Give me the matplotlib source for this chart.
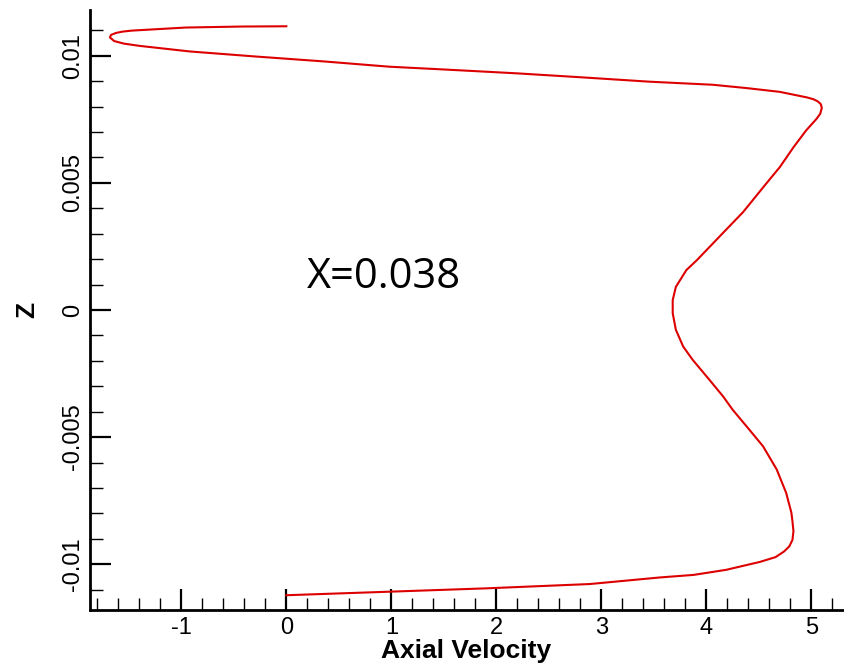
import matplotlib
matplotlib.use("Agg")
import matplotlib.pyplot as plt
from matplotlib.ticker import MultipleLocator, FixedLocator

# Axial velocity profile across the channel height (ordered along the curve)
axial_velocity = [0.0, 0.92, 1.90, 2.89, 3.56, 3.88, 4.19, 4.51, 4.66, 4.74,
                  4.79, 4.82, 4.83, 4.82, 4.81, 4.76, 4.67, 4.54, 4.41, 4.25,
                  4.16, 4.02, 3.87, 3.78, 3.71, 3.68, 3.68, 3.71, 3.81, 3.91,
                  4.14, 4.35, 4.57, 4.70, 4.83, 4.95, 5.05, 5.085, 5.10, 5.09,
                  5.06, 5.02, 4.96, 4.70, 4.38, 4.06, 3.46, 2.82, 2.19, 1.55,
                  0.98, 0.35, -0.29, -0.92, -1.40, -1.55, -1.64, -1.68, -1.67,
                  -1.62, -1.56, -1.47, -0.96, -0.42, 0.0]
z_position = [-0.01122, -0.01109, -0.01095, -0.01078, -0.01052, -0.01042,
              -0.01022, -0.00991, -0.00972, -0.00950, -0.00930, -0.00905,
              -0.00870, -0.00830, -0.00797, -0.00719, -0.00627, -0.00536,
              -0.00471, -0.00392, -0.00340, -0.00270, -0.00196, -0.00144,
              -0.00078, -0.00013, 0.00039, 0.00091, 0.00157, 0.00196,
              0.00295, 0.00385, 0.00497, 0.00562, 0.00640, 0.00706, 0.00752,
              0.00772, 0.00795, 0.00810, 0.00821, 0.00829, 0.00836, 0.00858,
              0.00873, 0.00886, 0.00898, 0.00915, 0.00931, 0.00945, 0.00957,
              0.00978, 0.00997, 0.01017, 0.01039, 0.01048, 0.01058, 0.01072,
              0.01082, 0.01090, 0.01095, 0.01099, 0.01111, 0.01115, 0.01116]

x_ticks = [-1, 0, 1, 2, 3, 4, 5]
x_tick_labels = ["-1", "0", "1", "2", "3", "4", "5"]
y_ticks = [-0.01, -0.005, 0, 0.005, 0.01]
y_tick_labels = ["-0.01", "-0.005", "0", "0.005", "0.01"]
station_label = "X=0.038"

fig = plt.figure(figsize=(8.44, 6.67), dpi=100)
ax = fig.add_axes([0.1066, 0.0855, 0.892, 0.8995])

ax.plot(axial_velocity, z_position, color="#dd0000", linewidth=1.5,
        solid_joinstyle="round")

ax.set_xlim(-1.87, 5.3)
ax.set_ylim(-0.0118, 0.0118)

for side in ("top", "right"):
    ax.spines[side].set_visible(False)
for side in ("left", "bottom"):
    ax.spines[side].set_linewidth(2)

tick_font = {"family": ["Liberation Sans", "DejaVu Sans"], "size": 17}
ax.xaxis.set_major_locator(FixedLocator(x_ticks))
ax.set_xticklabels(x_tick_labels, fontdict=tick_font)
ax.xaxis.set_minor_locator(MultipleLocator(0.2))
ax.yaxis.set_major_locator(FixedLocator(y_ticks))
ax.set_yticklabels(y_tick_labels, fontdict=tick_font, rotation=90, va="center")
ax.yaxis.set_minor_locator(MultipleLocator(0.001))

ax.tick_params(which="major", direction="in", length=15, width=1.6, pad=5)
ax.tick_params(which="minor", direction="in", length=9, width=1.0)
ax.tick_params(axis="y", which="major", pad=4)

label_font = {"family": ["Liberation Sans", "DejaVu Sans"], "size": 19,
              "weight": "bold"}
ax.set_xlabel("Axial Velocity", fontdict=label_font, labelpad=0)
ax.set_ylabel("Z", fontdict=label_font, labelpad=17)

ax.text(0.2, 0.00088, station_label, fontsize=30,
        family=["Open Sans", "DejaVu Sans"], ha="left", va="baseline")

fig.savefig("out.png", dpi=100)
